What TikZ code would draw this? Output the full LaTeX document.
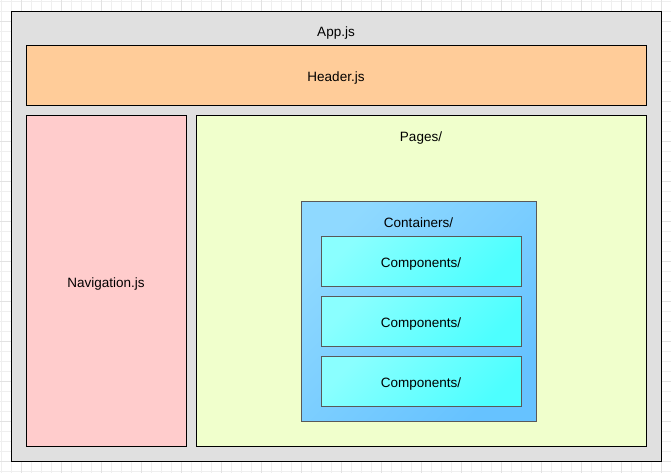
\documentclass[tikz,border=0pt]{standalone}
\usepackage{fontspec}
\setmainfont{Liberation Sans}
\definecolor{appfill}{HTML}{E0E0E0}
\definecolor{headfill}{HTML}{FFCC99}
\definecolor{navfill}{HTML}{FFCCCC}
\definecolor{pagefill}{HTML}{F0FFCC}
\definecolor{contA}{HTML}{8FD9FF}
\definecolor{contB}{HTML}{66C2FF}
\definecolor{compA}{HTML}{8AFFFF}
\definecolor{compB}{HTML}{4DFFFF}
\definecolor{gridminor}{HTML}{EFEFEF}
\definecolor{gridmajor}{HTML}{E2E2E2}
\begin{document}
\begin{tikzpicture}[x=1pt,y=-1pt,
  lbl/.style={font=\fontsize{13.5}{16}\selectfont, text=black, inner sep=0pt},
  boxline/.style={draw=black, line width=1pt},
  innerline/.style={draw=black!65, line width=0.9pt}]
\useasboundingbox (0,0) rectangle (671,473);
\fill[white] (0,0) rectangle (671,473);
\foreach \i in {1,11,...,671} {\draw[gridminor, line width=0.6pt] (\i,0) -- (\i,473);}
\foreach \j in {1,11,...,473} {\draw[gridminor, line width=0.6pt] (0,\j) -- (671,\j);}
\foreach \i in {21,61,...,671} {\draw[gridmajor, line width=0.8pt] (\i,0) -- (\i,473);}
\foreach \j in {21,61,...,473} {\draw[gridmajor, line width=0.8pt] (0,\j) -- (671,\j);}

% App
\draw[boxline, fill=appfill] (11.5,11.5) rectangle (661.5,461.5);
\node[lbl] (app) at (336,33) {App.js};
% Header
\draw[boxline, fill=headfill] (26,46) rectangle (646,106);
\node[lbl] (header) at (336,78) {Header.js};
% Navigation
\draw[boxline, fill=navfill] (26,116) rectangle (186,446);
\node[lbl] (nav) at (106,284) {Navigation.js};
% Pages
\draw[boxline, fill=pagefill] (196,116) rectangle (646,446);
\node[lbl] (pages) at (421,138) {Pages/};
% Containers
\shade[top color=contA, bottom color=contB, shading angle=45] (301,201) rectangle (536,421);
\draw[innerline] (301,201) rectangle (536,421);
\node[lbl] (cont) at (418.5,223) {Containers/};
% Components
\foreach \y/\n in {236/c1,296/c2,356/c3} {
  \shade[top color=compA, bottom color=compB, shading angle=45] (321,\y) rectangle (521,\y+50);
  \draw[innerline] (321,\y) rectangle (521,\y+50);
  \node[lbl] (\n) at (421,\y+28) {Components/};
}
\end{tikzpicture}
\end{document}
